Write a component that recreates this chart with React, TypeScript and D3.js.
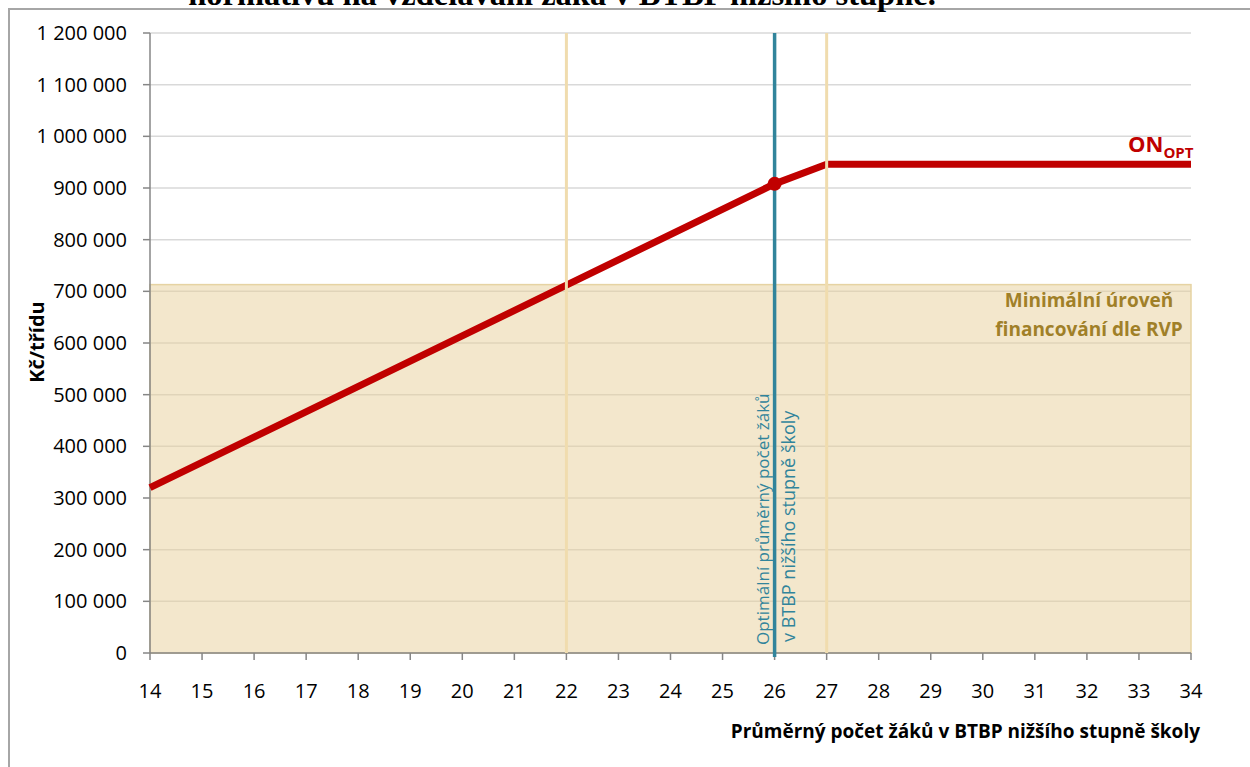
import React from "react";
import * as d3 from "d3";

const xTicks = [14, 15, 16, 17, 18, 19, 20, 21, 22, 23, 24, 25, 26, 27, 28, 29, 30, 31, 32, 33, 34];
const yTicks = [0, 100000, 200000, 300000, 400000, 500000, 600000, 700000, 800000, 900000, 1000000, 1100000, 1200000];
const onX = [14, 22, 26, 27, 34];
const onY = [320000, 712000, 908000, 946000, 946000];
const minLevel = 713000;
const tanLines = [22, 27];
const optimum = 26;
const optimumValue = 908000;

const W = 1250;
const H = 767;
const FONT = "'Open Sans', sans-serif";

export default function App() {
  const x = d3.scaleLinear().domain([14, 34]).range([150, 1191]);
  const y = d3.scaleLinear().domain([0, 1200000]).range([653, 33]);
  const fmt = (v: number) => d3.format(",")(v).replace(/,/g, " ");
  const pts: [number, number][] = onX.map((v, i) => [v, onY[i]]);
  const line = d3.line<[number, number]>().x((d) => x(d[0])).y((d) => y(d[1]));

  return (
    <svg width={W} height={H} style={{ position: "absolute", left: 0, top: 0, background: "#fff" }}>
      {/* frame */}
      <rect x={9} y={9} width={1300} height={800} fill="none" stroke="#A6A6A6" strokeWidth={2} />
      {/* cropped title */}
      <text x={562} y={5} textAnchor="middle" fontFamily="'Liberation Serif', serif" fontWeight="bold" fontSize={32.5} fill="#000">
        normativu na vzdělávání žáka v BTBP nižšího stupně.
      </text>
      {/* grid */}
      {yTicks.filter((v) => v > 0).map((v) => (
        <line key={"g" + v} x1={x(14)} x2={x(34)} y1={y(v)} y2={y(v)} stroke="#D9D9D9" strokeWidth={1.5} />
      ))}
      {/* minimum level area */}
      <rect x={x(14)} y={y(minLevel)} width={x(34) - x(14)} height={y(0) - y(minLevel)} fill="#E8CF9A" fillOpacity={0.5} stroke="#E6D3A3" strokeWidth={1.5} />
      {/* axes */}
      <line x1={x(14)} x2={x(14)} y1={y(1200000)} y2={y(0)} stroke="#868686" strokeWidth={1.5} />
      <line x1={x(14)} x2={x(34)} y1={y(0)} y2={y(0)} stroke="#868686" strokeWidth={1.5} />
      {yTicks.map((v) => (
        <g key={"y" + v}>
          <line x1={x(14) - 7} x2={x(14)} y1={y(v)} y2={y(v)} stroke="#868686" strokeWidth={1.5} />
          <text x={127} y={y(v) + 7} textAnchor="end" fontFamily={FONT} fontSize={20} fill="#000">
            {fmt(v)}
          </text>
        </g>
      ))}
      {xTicks.map((v) => (
        <g key={"x" + v}>
          <line x1={x(v)} x2={x(v)} y1={y(0)} y2={y(0) + 7} stroke="#868686" strokeWidth={1.5} />
          <text x={x(v)} y={698} textAnchor="middle" fontFamily={FONT} fontSize={20} fill="#000">
            {v}
          </text>
        </g>
      ))}
      {/* ON line */}
      <path d={line(pts) || ""} fill="none" stroke="#C00000" strokeWidth={7} strokeLinejoin="round" />
      {/* tan vertical lines */}
      {tanLines.map((v) => (
        <line key={"t" + v} x1={x(v)} x2={x(v)} y1={y(1200000)} y2={y(0)} stroke="#F0DCAE" strokeWidth={3} />
      ))}
      {/* optimum line */}
      <line x1={x(optimum)} x2={x(optimum)} y1={y(1200000)} y2={y(0) + 4} stroke="#31849B" strokeWidth={3.5} />
      <circle cx={x(optimum)} cy={y(optimumValue)} r={7} fill="#C00000" />
      {/* labels */}
      <text x={1128} y={152} fontFamily={FONT} fontWeight="bold" fontSize={22} fill="#C00000">
        ON<tspan fontSize={15} dy={6}>OPT</tspan>
      </text>
      <text textAnchor="middle" fontFamily={FONT} fontWeight="bold" fontSize={19} fill="#A08028">
        <tspan x={1089} y={307}>Minimální úroveň</tspan>
        <tspan x={1089} y={336}>financování dle RVP</tspan>
      </text>
      <text transform={`translate(769,645) rotate(-90)`} fontFamily={FONT} fontSize={17} fill="#31849B">
        Optimální průměrný počet žáků
      </text>
      <text transform={`translate(795,642) rotate(-90)`} fontFamily={FONT} fontSize={18} fill="#31849B">
        v BTBP nižšího stupně školy
      </text>
      <text x={1200} y={738} textAnchor="end" fontFamily={FONT} fontWeight="bold" fontSize={19} fill="#000">
        Průměrný počet žáků v BTBP nižšího stupně školy
      </text>
      <text transform={`translate(44,342) rotate(-90)`} textAnchor="middle" fontFamily={FONT} fontWeight="bold" fontSize={20} fill="#000">
        Kč/třídu
      </text>
    </svg>
  );
}
